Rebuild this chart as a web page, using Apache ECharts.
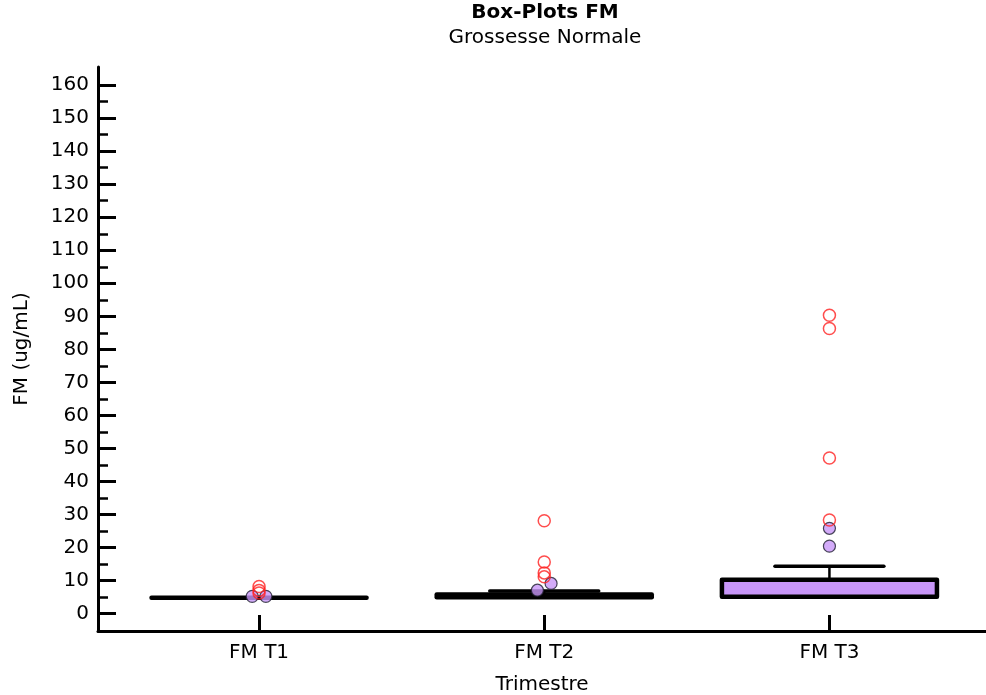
<!DOCTYPE html>
<html>
<head>
<meta charset="utf-8">
<script src="https://cdn.jsdelivr.net/npm/echarts@6/dist/echarts.min.js"></script>
<style>
html,body{margin:0;padding:0;background:#fff;}
#chart{width:986px;height:695px;}
</style>
</head>
<body>
<div id="chart"></div>
<script>
// ---- data ----
const categories = ['FM T1', 'FM T2', 'FM T3'];
const boxMin    = [4.8, 4.95, 5.1];
const boxQ1     = [4.8, 4.95, 5.1];
const boxMedian = [4.8, 4.95, 5.1];
const boxQ3     = [4.8, 5.75, 10.2];
const boxMax    = [4.8, 6.8, 14.3];
const nearOutliers = [[5.2, 5.2], [7.05, 9.1], [20.4, 25.8]];
const farOutliers  = [[8.2, 7.0, 6.2], [28.1, 15.6, 12.3, 11.1], [28.3, 47.1, 86.3, 90.3]];
const yMajorTicks = [0, 10, 20, 30, 40, 50, 60, 70, 80, 90, 100, 110, 120, 130, 140, 150, 160];
const yMinorTicks = [5, 15, 25, 35, 45, 55, 65, 75, 85, 95, 105, 115, 125, 135, 145, 155];
const xTicks = [1, 2, 3];

const FONT = 'DejaVu Sans';
const FS = 20;
const PURPLE = '#C896F8';

// ---- build series data ----
const boxData = categories.map((c, i) => [i + 1, boxMin[i], boxQ1[i], boxMedian[i], boxQ3[i], boxMax[i]]);

const JIT = 0.024, OVERLAP = 3.6;
const nearData = [];
nearOutliers.forEach((vals, i) => {
  let crowded = false;
  for (let a = 0; a < vals.length; a++)
    for (let b = a + 1; b < vals.length; b++)
      if (Math.abs(vals[a] - vals[b]) < OVERLAP) crowded = true;
  vals.forEach((v, k) => {
    const off = crowded ? (k % 2 === 0 ? -JIT : JIT) : 0;
    nearData.push([i + 1 + off, v]);
  });
});
const farData = [];
farOutliers.forEach((vals, i) => vals.forEach(v => farData.push([i + 1, v])));

const BOX_W = 0.754, CAP_W = 0.382;

const chart = echarts.init(document.getElementById('chart'), null, {renderer: 'canvas'});
chart.setOption({
  backgroundColor: '#fff',
  animation: false,
  graphic: [
    {type: 'text', x: 545, y: 3, style: {text: 'Box-Plots FM', font: 'bold ' + FS + 'px "DejaVu Sans"', fill: '#000', textAlign: 'center', textVerticalAlign: 'top'}},
    {type: 'text', x: 545, y: 28, style: {text: 'Grossesse Normale', font: FS + 'px "DejaVu Sans"', fill: '#000', textAlign: 'center', textVerticalAlign: 'top'}}
  ],
  grid: {left: 98, right: 0, top: 67, bottom: 64, containLabel: false, outerBoundsMode: 'none'},
  xAxis: {
    type: 'value', min: 0.4353, max: 3.549,
    axisLine: {show: true, onZero: false, lineStyle: {color: '#000', width: 3}},
    axisTick: {show: true, inside: true, length: 16, customValues: xTicks, lineStyle: {color: '#000', width: 3}},
    axisLabel: {show: true, customValues: xTicks, margin: 12, color: '#000', fontFamily: FONT, fontSize: FS,
      formatter: v => categories[Math.round(v) - 1] || ''},
    splitLine: {show: false},
    name: 'Trimestre', nameLocation: 'middle', nameGap: 44,
    nameTextStyle: {color: '#000', fontFamily: FONT, fontSize: FS}
  },
  yAxis: [{
    type: 'value', min: -5.3, max: 165.5,
    axisLine: {show: true, onZero: false, lineStyle: {color: '#000', width: 3}},
    axisTick: {show: true, inside: true, length: 18, customValues: yMajorTicks, lineStyle: {color: '#000', width: 3}},
    axisLabel: {show: true, customValues: yMajorTicks, margin: 9, color: '#000', fontFamily: FONT, fontSize: FS},
    splitLine: {show: false},
    name: 'FM (ug/mL)', nameLocation: 'middle', nameGap: 66, nameRotate: 90,
    nameTextStyle: {color: '#000', fontFamily: FONT, fontSize: FS}
  }, {
    type: 'value', min: -5.3, max: 165.5, position: 'left',
    axisLine: {show: false},
    axisTick: {show: true, inside: true, length: 10, customValues: yMinorTicks, lineStyle: {color: '#000', width: 2.5}},
    axisLabel: {show: false},
    splitLine: {show: false}
  }],
  series: [{
    type: 'custom',
    xAxisIndex: 0, yAxisIndex: 0,
    data: boxData,
    encode: {x: 0, y: [1, 2, 3, 4, 5]},
    z: 2,
    renderItem: function (params, api) {
      const x = api.value(0);
      const pMin = api.coord([x, api.value(1)]);
      const pQ1 = api.coord([x, api.value(2)]);
      const pMed = api.coord([x, api.value(3)]);
      const pQ3 = api.coord([x, api.value(4)]);
      const pMax = api.coord([x, api.value(5)]);
      const bw = api.size([BOX_W, 0])[0];
      const cw = api.size([CAP_W, 0])[0];
      const cx = pQ1[0];
      const children = [];
      const line = (x1, y1, x2, y2, w) => ({type: 'line', shape: {x1, y1, x2, y2},
        style: {stroke: '#000', lineWidth: w, lineCap: 'round'}});
      if (pMax[1] < pQ3[1]) {
        children.push(line(cx, pQ3[1], cx, pMax[1], 2.5));
        children.push(line(cx - cw / 2, pMax[1], cx + cw / 2, pMax[1], 3.5));
      }
      if (pMin[1] > pQ1[1]) {
        children.push(line(cx, pQ1[1], cx, pMin[1], 2.5));
        children.push(line(cx - cw / 2, pMin[1], cx + cw / 2, pMin[1], 3.5));
      }
      children.push({type: 'rect',
        shape: {x: cx - bw / 2, y: pQ3[1], width: bw, height: pQ1[1] - pQ3[1]},
        style: {fill: PURPLE, stroke: '#000', lineWidth: 4.5, lineJoin: 'round'}});
      children.push(line(cx - bw / 2, pMed[1], cx + bw / 2, pMed[1], 3));
      return {type: 'group', children};
    }
  }, {
    type: 'scatter', xAxisIndex: 0, yAxisIndex: 0, z: 3,
    symbol: 'circle', symbolSize: 12,
    data: nearData,
    itemStyle: {color: PURPLE, borderColor: '#1e1e30', borderWidth: 1.2}
  }, {
    type: 'scatter', xAxisIndex: 0, yAxisIndex: 0, z: 4,
    symbol: 'circle', symbolSize: 12,
    data: farData,
    itemStyle: {color: 'rgba(255,255,255,0)', borderColor: '#FF2020', borderWidth: 1.5}
  }]
});
</script>
</body>
</html>
